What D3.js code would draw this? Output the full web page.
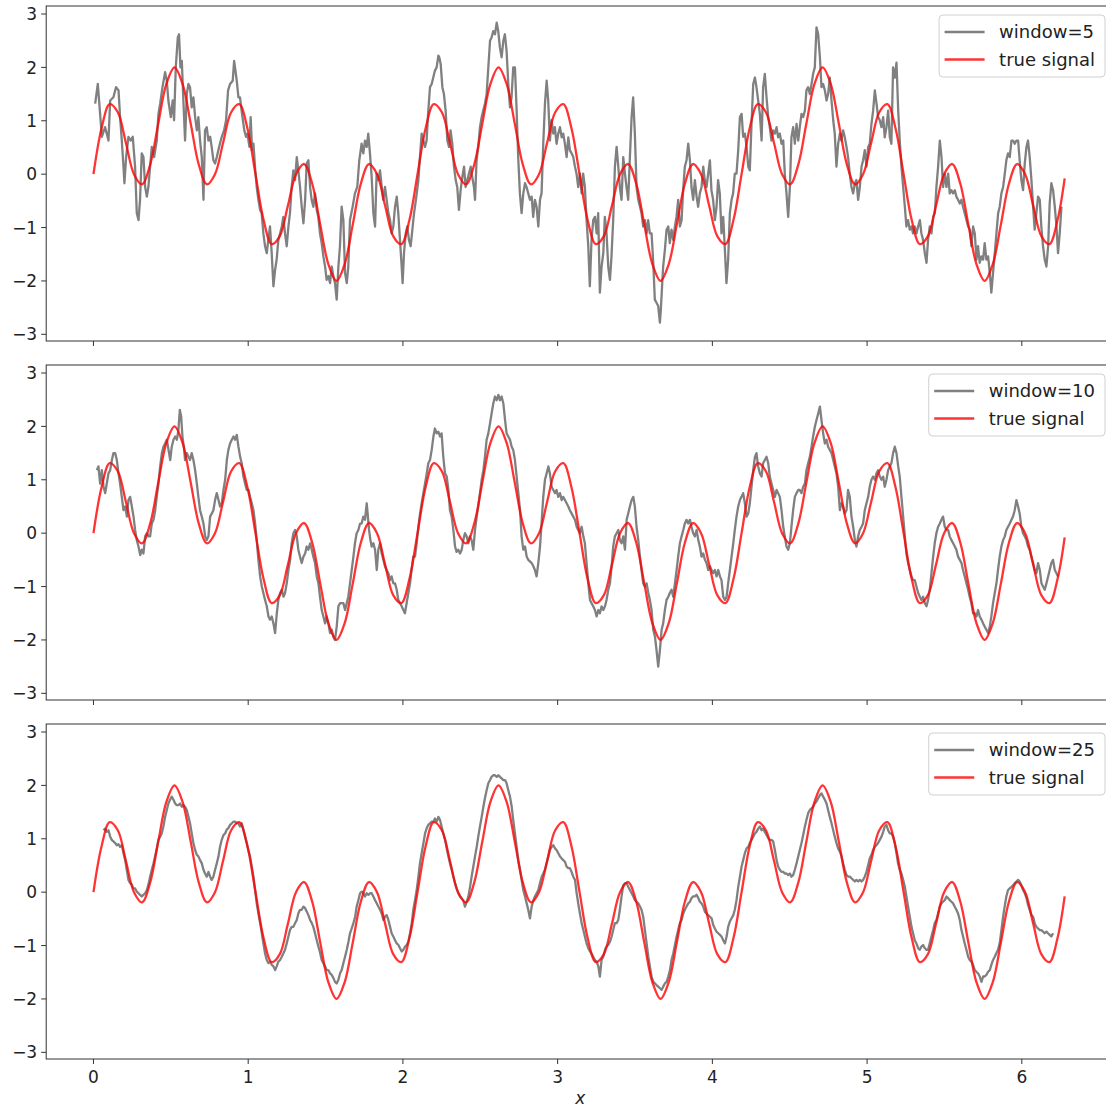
<!DOCTYPE html>
<html>
<head>
<meta charset="utf-8">
<script src="https://cdn.jsdelivr.net/npm/d3@7"></script>
<style>
  html, body { margin: 0; padding: 0; background: #fff; }
  svg { display: block; font-family: "DejaVu Sans", sans-serif; }
</style>
</head>
<body>
<svg id="chart" width="1106" height="1107"></svg>
<script>
// ---- tick labels ----
const xTicks = [0, 1, 2, 3, 4, 5, 6];
const xTickLabels = ["0", "1", "2", "3", "4", "5", "6"];
const yTicks = [-3, -2, -1, 0, 1, 2, 3];
const yTickLabels = ["\u22123", "\u22122", "\u22121", "0", "1", "2", "3"];
const seriesLabels = ["window=5", "window=10", "window=25"];
const trueLabel = "true signal";
const xLabel = "x";

// ---- true signal, sampled every pi/60 from 0 to 2*pi ----
const trueStep = Math.PI / 60;
const trueSignal = [
  0, 0.86, 1.31, 1.16, 0.59, 0, -0.19, 0.18, 0.95, 1.69, 2.00, 1.69, 0.95, 0.18, -0.19, 0, 0.59, 1.16, 1.31, 0.86,
  0, -0.86, -1.31, -1.16, -0.59, 0, 0.19, -0.18, -0.95, -1.69, -2.00, -1.69, -0.95, -0.18, 0.19, 0, -0.59, -1.16, -1.31, -0.86,
  0, 0.86, 1.31, 1.16, 0.59, 0, -0.19, 0.18, 0.95, 1.69, 2.00, 1.69, 0.95, 0.18, -0.19, 0, 0.59, 1.16, 1.31, 0.86,
  0, -0.86, -1.31, -1.16, -0.59, 0, 0.19, -0.18, -0.95, -1.69, -2.00, -1.69, -0.95, -0.18, 0.19, 0, -0.59, -1.16, -1.31, -0.86,
  0, 0.86, 1.31, 1.16, 0.59, 0, -0.19, 0.18, 0.95, 1.69, 2.00, 1.69, 0.95, 0.18, -0.19, 0, 0.59, 1.16, 1.31, 0.86,
  0, -0.86, -1.31, -1.16, -0.59, 0, 0.19, -0.18, -0.95, -1.69, -2.00, -1.69, -0.95, -0.18, 0.19, 0, -0.59, -1.16, -1.31, -0.86,
  -0.08
];

// ---- rolling means, [x, value] ----
const window5 = [
[0.011,1.32],[0.028,1.69],[0.043,1.13],[0.054,0.70],[0.075,0.88],[0.086,0.76],[0.097,0.63],[0.108,1.38],[0.129,1.44],[0.146,1.63],[0.162,1.57],[0.172,1.07],[0.183,0.63],[0.194,0.14],[0.200,-0.17],[0.211,0.32],[0.226,0.70],[0.241,0.63],[0.254,0.70],[0.269,0.14],[0.280,-0.73],[0.291,-0.86],[0.301,-0.48],[0.312,0.39],[0.323,0.32],[0.334,-0.24],[0.345,-0.42],[0.355,-0.24],[0.366,0.14],[0.377,0.51],[0.392,0.32],[0.409,0.63],[0.420,1.13],[0.431,1.32],[0.446,1.63],[0.463,1.91],[0.474,1.75],[0.484,1.38],[0.500,1.07],[0.512,1.38],[0.521,1.01],[0.532,2.00],[0.545,2.56],[0.553,2.62],[0.562,2.00],[0.571,2.12],[0.581,1.38],[0.592,0.63],[0.603,1.50],[0.614,1.69],[0.624,1.63],[0.635,1.25],[0.646,1.44],[0.657,1.07],[0.668,0.82],[0.678,1.07],[0.689,0.63],[0.700,0.32],[0.711,-0.48],[0.721,0.82],[0.732,0.88],[0.743,0.63],[0.754,0.70],[0.764,0.51],[0.775,0.26],[0.786,0.20],[0.797,0.32],[0.812,0.51],[0.829,0.70],[0.844,0.82],[0.857,1.01],[0.870,1.57],[0.883,1.69],[0.900,1.75],[0.909,2.12],[0.915,2.00],[0.926,1.75],[0.937,1.44],[0.947,1.44],[0.960,1.13],[0.975,0.82],[0.986,0.70],[0.995,0.76],[1.008,0.51],[1.016,1.07],[1.025,0.45],[1.034,0.57],[1.044,0.14],[1.055,-0.24],[1.066,-0.48],[1.077,-0.67],[1.087,-0.73],[1.098,-1.11],[1.109,-1.35],[1.120,-1.48],[1.130,-1.23],[1.141,-0.98],[1.152,-1.48],[1.163,-2.10],[1.174,-1.79],[1.184,-1.60],[1.195,-1.23],[1.206,-1.11],[1.217,-0.98],[1.227,-0.80],[1.238,-1.11],[1.249,-1.35],[1.260,-0.98],[1.270,-0.73],[1.281,-0.24],[1.292,0.07],[1.303,-0.11],[1.314,0.32],[1.324,0.07],[1.335,-0.24],[1.346,-0.61],[1.357,-0.92],[1.368,-0.48],[1.378,0.20],[1.389,0.26],[1.400,-0.24],[1.410,-0.48],[1.421,-0.61],[1.432,-0.36],[1.443,-0.67],[1.453,-0.80],[1.464,-1.11],[1.475,-1.29],[1.486,-1.54],[1.497,-1.73],[1.507,-1.98],[1.518,-1.91],[1.529,-2.04],[1.540,-1.73],[1.550,-1.91],[1.561,-2.04],[1.572,-2.35],[1.583,-1.73],[1.593,-1.35],[1.604,-0.61],[1.615,-0.86],[1.626,-1.85],[1.637,-2.04],[1.647,-1.73],[1.658,-0.86],[1.675,-0.61],[1.690,-0.36],[1.705,-0.24],[1.718,0.26],[1.733,0.57],[1.744,0.39],[1.755,0.63],[1.766,0.51],[1.776,0.76],[1.787,0.39],[1.798,-0.05],[1.809,-0.73],[1.820,-0.98],
[1.830,0.01],[1.841,-0.11],[1.852,0.07],[1.863,-0.24],[1.873,-0.48],[1.884,-0.24],[1.895,-0.48],[1.906,-0.73],[1.917,-0.86],[1.927,-1.11],[1.938,-0.98],[1.949,-0.61],[1.960,-0.42],[1.970,-0.73],[1.981,-1.23],[1.992,-1.73],[1.998,-2.04],[2.007,-1.48],[2.018,-1.11],[2.028,-0.98],[2.039,-1.23],[2.050,-1.35],[2.061,-1.04],[2.072,-0.73],[2.084,-0.48],[2.100,-0.11],[2.110,0.32],[2.121,0.76],[2.132,0.63],[2.143,0.51],[2.153,0.63],[2.164,1.19],[2.175,1.63],[2.186,1.69],[2.196,1.81],[2.207,1.94],[2.218,2.00],[2.229,2.22],[2.235,2.19],[2.244,2.06],[2.255,1.63],[2.265,1.50],[2.276,1.19],[2.287,0.63],[2.298,0.51],[2.308,0.82],[2.319,0.57],[2.330,0.14],[2.341,-0.11],[2.351,-0.24],[2.362,-0.67],[2.373,-0.30],[2.384,-0.05],[2.395,0.14],[2.405,-0.24],[2.416,-0.11],[2.427,0.01],[2.438,0.14],[2.448,-0.05],[2.459,-0.24],[2.466,-0.48],[2.476,0.26],[2.487,0.51],[2.498,0.88],[2.509,1.07],[2.519,1.19],[2.530,1.32],[2.541,1.50],[2.552,2.00],[2.563,2.50],[2.573,2.56],[2.584,2.68],[2.595,2.62],[2.606,2.84],[2.616,2.68],[2.627,2.37],[2.638,2.19],[2.649,2.50],[2.659,2.62],[2.670,2.31],[2.681,1.69],[2.692,1.25],[2.702,1.44],[2.713,2.00],[2.724,2.00],[2.735,1.19],[2.745,0.32],[2.756,-0.36],[2.767,-0.73],[2.778,-0.36],[2.789,-0.17],[2.799,-0.24],[2.810,-0.36],[2.821,-0.48],[2.832,-0.42],[2.842,-0.80],[2.853,-0.48],[2.864,-0.61],[2.875,-0.98],[2.886,-0.48],[2.896,-0.36],[2.907,0.57],[2.918,1.32],[2.929,1.75],[2.939,1.38],[2.950,0.63],[2.961,1.01],[2.972,0.76],[2.982,0.88],[2.993,0.57],[3.004,0.76],[3.015,0.88],[3.026,0.69],[3.036,0.76],[3.047,0.57],[3.058,0.32],[3.069,0.69],[3.079,0.45],[3.090,0.39],[3.101,0.32],[3.112,0.14],[3.122,0.01],[3.133,-0.24],[3.144,0.01],[3.155,-0.36],[3.165,0.01],[3.176,-0.24],[3.187,-0.86],[3.198,-1.35],[3.208,-2.10],[3.219,-1.23],[3.230,-0.86],[3.241,-0.80],[3.252,-1.11],[3.262,-0.73],[3.273,-2.22],[3.284,-1.73],[3.295,-1.48],[3.305,-0.80],[3.316,-1.11],[3.327,-1.73],[3.338,-1.98],[3.348,-1.54],[3.359,-0.86],[3.370,0.14],[3.381,0.51],[3.392,0.14],[3.402,-0.24],[3.413,-0.48],[3.424,0.32],[3.435,0.01],[3.445,-0.24],[3.456,-0.48],[3.467,0.32],[3.478,1.07],[3.488,1.44],[3.499,0.76],[3.510,-0.24],[3.521,-0.48],[3.532,-0.61],[3.542,-0.73],[3.553,-0.98],[3.564,-0.86],[3.575,-1.11],[3.585,-0.86],[3.596,-1.11],[3.607,-1.11],[3.618,-1.66],[3.628,-2.35],[3.639,-2.41],[3.650,-2.47],[3.661,-2.78],[3.667,-2.53],[3.676,-2.04],[3.682,-1.73],[3.693,-1.42],[3.704,-1.04],[3.715,-0.98],[3.725,-1.29],[3.736,-1.04],[3.747,-1.23],[3.758,-0.98],[3.768,-0.80],[3.779,-0.48],[3.790,-0.98],[3.801,-0.86],[3.811,-0.30],[3.822,0.14],[3.833,0.26],[3.844,0.57],[3.855,0.26],[3.865,-0.24],[3.876,-0.48],[3.887,-0.11],[3.898,-0.42],[3.908,-0.61],[3.919,-0.36],[3.930,-0.24],[3.941,0.14],[3.951,-0.11],[3.962,-0.24],[3.973,0.01],[3.984,0.26],[3.994,-0.30],[4.005,-0.48],[4.016,-0.86],[4.027,-0.61],[4.037,-0.11],[4.048,-0.36],[4.059,-1.11],[4.070,-0.80],[4.081,-1.42],[4.091,-2.04],[4.102,-1.60],[4.113,-0.73],[4.124,-0.48],[4.134,-0.36],[4.145,0.01],
[4.156,0.01],[4.167,0.45],[4.178,1.07],[4.189,1.13],[4.199,0.70],[4.210,0.76],[4.221,0.51],[4.232,0.14],[4.242,0.07],[4.253,0.94],[4.264,1.69],[4.275,1.81],[4.285,1.63],[4.296,1.38],[4.307,1.13],[4.318,0.63],[4.328,1.63],[4.339,1.88],[4.350,1.44],[4.361,1.07],[4.371,0.88],[4.382,0.63],[4.393,0.82],[4.404,0.76],[4.415,0.88],[4.425,0.69],[4.436,0.76],[4.447,0.57],[4.458,0.63],[4.468,0.01],[4.479,-0.36],[4.490,-0.80],[4.501,-0.24],[4.511,0.69],[4.522,0.88],[4.533,0.57],[4.544,0.94],[4.555,0.63],[4.565,0.88],[4.576,1.13],[4.587,1.07],[4.598,1.19],[4.608,1.57],[4.619,1.63],[4.630,1.50],[4.641,1.69],[4.651,1.88],[4.662,2.00],[4.673,2.75],[4.684,2.62],[4.695,2.19],[4.705,1.63],[4.716,1.69],[4.727,1.57],[4.738,1.38],[4.748,1.50],[4.759,1.81],[4.770,1.38],[4.781,1.01],[4.791,0.76],[4.802,0.14],[4.813,0.57],[4.824,0.76],[4.834,0.63],[4.845,0.82],[4.856,0.69],[4.867,0.51],[4.877,0.32],[4.888,0.01],[4.899,-0.24],[4.910,-0.36],[4.921,-0.17],[4.931,-0.11],[4.942,-0.48],[4.953,-0.24],[4.964,0.14],[4.974,0.26],[4.985,0.45],[4.996,0.14],[5.007,0.51],[5.017,0.57],[5.028,0.94],[5.039,1.19],[5.050,1.57],[5.061,1.32],[5.071,1.07],[5.082,1.01],[5.093,0.88],[5.104,1.07],[5.114,0.69],[5.125,0.88],[5.136,1.19],[5.147,0.69],[5.157,0.57],[5.168,2.00],[5.179,1.81],[5.190,2.09],[5.201,1.19],[5.211,0.63],[5.222,0.14],[5.233,-0.24],[5.244,-0.61],[5.254,-0.98],[5.265,-0.86],[5.276,-1.04],[5.287,-0.98],[5.297,-1.11],[5.308,-0.98],[5.319,-1.11],[5.330,-0.98],[5.341,-0.86],[5.351,-1.11],[5.362,-1.23],[5.373,-1.48],[5.384,-1.66],[5.394,-1.23],[5.405,-0.98],[5.416,-1.11],[5.427,-0.80],[5.438,-0.73],[5.448,-0.24],[5.459,0.14],[5.470,0.63],[5.481,0.32],[5.491,-0.24],[5.502,0.01],[5.513,-0.24],[5.524,0.01],[5.534,-0.36],[5.545,-0.30],[5.556,-0.36],[5.567,-0.30],[5.577,-0.42],[5.588,-0.48],[5.599,-0.55],[5.610,-0.48],[5.620,-0.61],[5.631,-0.73],[5.642,-0.86],[5.653,-0.98],[5.664,-1.04],[5.674,-1.35],[5.685,-0.98],[5.696,-1.11],[5.707,-1.60],[5.717,-1.35],[5.728,-1.66],[5.739,-1.54],[5.750,-1.60],[5.760,-1.29],[5.771,-1.60],[5.782,-1.54],[5.793,-1.85],[5.803,-2.22],[5.814,-1.85],[5.825,-1.48],[5.836,-1.11],[5.847,-0.73],[5.857,-0.61],[5.868,-0.36],[5.879,-0.24],[5.890,0.01],[5.900,0.26],[5.911,0.39],[5.922,0.32],[5.933,0.63],[5.943,0.63],[5.954,0.57],[5.965,0.63],[5.976,0.63],[5.986,0.26],[5.997,-0.11],[6.008,-0.30],[6.019,0.20],[6.030,0.51],[6.040,0.63],[6.051,0.32],[6.062,-0.11],[6.073,-0.61],[6.083,-1.04],[6.094,-0.73],[6.105,-0.42],[6.116,-0.48],[6.126,-0.98],[6.137,-1.35],[6.148,-1.60],[6.159,-1.73],[6.170,-1.35],[6.180,-0.55],[6.191,-0.17],[6.202,-0.30],[6.213,-0.61],[6.224,-0.98],[6.234,-1.48],[6.245,-1.11],[6.256,-0.61]
];

const window10 = [
[0.022,1.18],[0.032,1.25],[0.043,0.93],[0.054,1.18],[0.065,0.87],[0.076,0.75],[0.086,0.93],[0.097,1.12],[0.108,1.18],[0.119,1.37],[0.129,1.50],[0.140,1.50],[0.151,1.37],[0.162,1.12],[0.172,0.93],[0.183,0.68],[0.194,0.43],[0.205,0.50],[0.216,0.31],[0.226,0.62],[0.237,0.68],[0.248,0.50],[0.259,0.31],[0.269,0.06],[0.280,-0.13],[0.291,-0.25],[0.302,-0.41],[0.312,-0.31],[0.323,-0.38],[0.334,-0.06],[0.345,0.00],[0.356,-0.06],[0.366,-0.06],[0.377,0.18],[0.388,0.25],[0.399,0.43],[0.409,0.68],[0.420,0.93],[0.431,1.25],[0.442,1.50],[0.452,1.62],[0.463,1.68],[0.474,1.75],[0.485,1.56],[0.496,1.37],[0.506,1.62],[0.517,1.75],[0.528,1.81],[0.539,1.75],[0.549,1.93],[0.558,2.31],[0.567,2.18],[0.575,1.81],[0.584,1.62],[0.592,1.37],[0.603,1.50],[0.614,1.43],[0.624,1.37],[0.635,1.50],[0.646,1.37],[0.657,1.18],[0.668,0.93],[0.678,0.68],[0.689,0.43],[0.700,0.31],[0.711,0.18],[0.722,-0.06],[0.732,-0.13],[0.743,-0.06],[0.754,0.31],[0.765,0.37],[0.775,0.43],[0.786,0.62],[0.797,0.75],[0.808,0.62],[0.818,0.50],[0.829,0.56],[0.840,0.81],[0.851,1.00],[0.862,1.37],[0.872,1.56],[0.883,1.68],[0.894,1.75],[0.905,1.81],[0.915,1.75],[0.926,1.84],[0.937,1.62],[0.948,1.43],[0.958,1.31],[0.969,1.06],[0.980,0.93],[0.991,0.81],[1.002,0.81],[1.012,0.68],[1.023,0.56],[1.034,0.43],[1.045,0.18],[1.055,-0.13],[1.066,-0.50],[1.077,-0.81],[1.088,-1.00],[1.098,-1.12],[1.109,-1.25],[1.120,-1.37],[1.131,-1.56],[1.141,-1.62],[1.152,-1.56],[1.163,-1.69],[1.174,-1.87],[1.185,-1.50],[1.195,-1.25],[1.206,-1.12],[1.217,-1.06],[1.228,-1.19],[1.238,-1.12],[1.249,-0.94],[1.260,-0.69],[1.271,-0.50],[1.281,-0.19],[1.292,0.00],[1.303,0.06],[1.314,-0.06],[1.324,-0.31],[1.335,-0.44],[1.346,-0.56],[1.357,-0.44],[1.368,-0.38],[1.378,-0.25],[1.389,-0.31],[1.400,-0.19],[1.411,-0.31],[1.421,-0.44],[1.432,-0.56],[1.443,-0.81],[1.454,-0.94],[1.464,-1.19],[1.475,-1.44],[1.486,-1.56],[1.497,-1.69],[1.507,-1.56],[1.518,-1.69],[1.529,-1.87],[1.540,-1.81],[1.550,-1.94],[1.561,-2.00],[1.572,-1.75],[1.583,-1.37],[1.594,-1.31],[1.604,-1.31],[1.615,-1.31],[1.626,-1.44],[1.637,-1.31],[1.647,-1.19],[1.658,-0.94],[1.669,-0.69],[1.680,-0.44],[1.690,-0.19],[1.701,0.00],[1.712,0.06],[1.723,0.18],[1.733,0.18],[1.744,0.31],[1.755,0.25],[1.766,0.56],[1.772,0.37],[1.781,0.06],[1.790,-0.13],[1.798,-0.25],[1.809,-0.19],[1.820,-0.31],[1.831,-0.69],[1.841,-0.31],[1.852,-0.19],[1.863,-0.38],[1.874,-0.50],[1.884,-0.62],[1.895,-0.69],[1.906,-0.75],[1.917,-0.88],[1.927,-0.81],[1.938,-0.94],[1.949,-0.94],[1.960,-1.06],[1.970,-1.25],[1.981,-1.31],[1.992,-1.37],[2.003,-1.44],[2.013,-1.50],[2.024,-1.31],[2.035,-1.12],[2.046,-0.94],[2.056,-0.69],[2.067,-0.44],
[2.078,-0.44],[2.089,-0.19],[2.100,0.12],[2.111,0.37],[2.121,0.56],[2.132,0.75],[2.143,0.93],[2.154,1.12],[2.164,1.31],[2.175,1.37],[2.186,1.56],[2.197,1.81],[2.207,1.96],[2.218,1.87],[2.229,1.90],[2.240,1.81],[2.250,1.87],[2.261,1.43],[2.272,1.12],[2.283,1.06],[2.294,0.81],[2.304,0.43],[2.315,0.31],[2.326,0.06],[2.337,-0.25],[2.347,-0.35],[2.358,-0.31],[2.369,-0.38],[2.380,-0.31],[2.390,-0.13],[2.401,0.00],[2.412,-0.06],[2.423,-0.19],[2.433,-0.06],[2.444,-0.13],[2.455,-0.31],[2.466,0.06],[2.477,0.31],[2.487,0.50],[2.498,0.75],[2.509,1.00],[2.520,1.18],[2.530,1.43],[2.541,1.75],[2.552,1.87],[2.563,2.06],[2.573,2.24],[2.584,2.43],[2.595,2.56],[2.606,2.49],[2.617,2.59],[2.627,2.49],[2.638,2.56],[2.649,2.43],[2.660,2.12],[2.670,1.87],[2.681,1.81],[2.692,1.75],[2.703,1.62],[2.713,1.56],[2.724,1.37],[2.735,1.06],[2.746,0.75],[2.757,0.43],[2.767,-0.06],[2.778,-0.31],[2.789,-0.25],[2.800,-0.44],[2.810,-0.50],[2.821,-0.53],[2.832,-0.56],[2.843,-0.62],[2.853,-0.69],[2.864,-0.81],[2.875,-0.56],[2.886,-0.25],[2.896,0.18],[2.907,0.68],[2.918,1.00],[2.929,1.12],[2.940,1.25],[2.950,1.12],[2.961,0.87],[2.972,0.81],[2.983,0.75],[2.993,0.81],[3.004,0.68],[3.015,0.75],[3.026,0.62],[3.036,0.68],[3.047,0.62],[3.058,0.56],[3.069,0.50],[3.079,0.43],[3.090,0.37],[3.101,0.31],[3.112,0.25],[3.123,0.12],[3.133,0.06],[3.144,0.00],[3.155,0.12],[3.166,-0.06],[3.176,-0.19],[3.187,-0.56],[3.198,-0.94],[3.209,-1.25],[3.219,-1.31],[3.230,-1.37],[3.241,-1.44],[3.252,-1.56],[3.263,-1.44],[3.273,-1.50],[3.284,-1.37],[3.295,-1.44],[3.306,-1.37],[3.316,-1.25],[3.327,-1.06],[3.338,-0.94],[3.349,-0.62],[3.359,-0.25],[3.370,-0.06],[3.381,0.00],[3.392,0.06],[3.402,-0.13],[3.413,-0.19],[3.424,-0.06],[3.435,-0.31],[3.446,0.25],[3.456,0.37],[3.467,0.50],[3.478,0.62],[3.489,0.68],[3.499,0.50],[3.510,0.12],[3.521,-0.13],[3.532,-0.44],[3.542,-0.69],[3.553,-0.94],[3.564,-1.00],[3.575,-0.94],[3.586,-1.12],[3.596,-1.25],[3.607,-1.44],[3.618,-1.81],[3.629,-1.94],[3.639,-2.19],[3.650,-2.50],[3.661,-2.19],[3.672,-1.81],[3.682,-1.69],[3.693,-1.44],[3.704,-1.25],[3.715,-1.19],[3.725,-1.12],[3.736,-1.06],[3.747,-1.19],[3.758,-0.94],[3.769,-0.69],[3.779,-0.44],[3.790,-0.19],[3.801,-0.06],[3.812,0.06],[3.822,0.18],[3.833,0.25],[3.844,0.18],[3.855,0.25],[3.865,0.12],[3.876,0.00],[3.887,-0.06],[3.898,0.06],[3.909,-0.13],[3.919,-0.25],[3.930,-0.44],[3.941,-0.38],[3.952,-0.50],[3.962,-0.56],[3.973,-0.69],[3.984,-0.62],[3.995,-0.69],[4.005,-0.75],[4.016,-0.69],[4.027,-0.81],[4.038,-0.69],[4.049,-0.81],[4.059,-0.88],[4.070,-1.19],[4.081,-1.25],[4.092,-1.19],[4.102,-0.94],[4.113,-0.69],[4.124,-0.44],[4.135,-0.19],
[4.145,0.06],[4.156,0.31],[4.167,0.50],[4.178,0.62],[4.188,0.68],[4.199,0.75],[4.210,0.56],[4.221,0.31],[4.232,0.37],[4.242,0.56],[4.253,0.87],[4.264,1.18],[4.275,1.43],[4.285,1.50],[4.296,1.25],[4.307,1.12],[4.318,1.06],[4.328,1.31],[4.339,1.37],[4.350,1.43],[4.361,1.31],[4.371,1.06],[4.382,0.93],[4.393,0.81],[4.404,0.68],[4.415,0.81],[4.425,0.75],[4.436,0.68],[4.447,0.43],[4.458,0.12],[4.468,-0.06],[4.479,-0.25],[4.490,-0.31],[4.501,-0.19],[4.511,0.12],[4.522,0.43],[4.533,0.68],[4.544,0.75],[4.555,0.81],[4.565,0.81],[4.576,0.75],[4.587,0.87],[4.598,0.93],[4.608,1.18],[4.619,1.31],[4.630,1.43],[4.641,1.62],[4.651,1.81],[4.662,1.99],[4.673,2.12],[4.684,2.24],[4.695,2.37],[4.705,2.12],[4.716,1.87],[4.727,1.68],[4.738,1.75],[4.748,1.62],[4.759,1.56],[4.770,1.50],[4.781,1.37],[4.791,1.25],[4.802,1.12],[4.813,0.87],[4.824,0.43],[4.834,0.56],[4.845,0.50],[4.856,0.37],[4.867,0.43],[4.877,0.81],[4.888,0.68],[4.899,0.31],[4.910,0.12],[4.921,-0.13],[4.931,-0.25],[4.942,-0.06],[4.953,0.06],[4.964,0.12],[4.974,0.18],[4.985,0.43],[4.996,0.56],[5.007,0.68],[5.017,0.87],[5.028,1.00],[5.039,1.06],[5.050,1.00],[5.061,1.12],[5.071,1.18],[5.082,1.06],[5.093,1.00],[5.104,1.06],[5.114,0.87],[5.125,1.00],[5.136,1.18],[5.147,1.25],[5.157,1.31],[5.168,1.50],[5.179,1.62],[5.190,1.50],[5.201,1.25],[5.211,1.06],[5.222,0.68],[5.233,0.31],[5.244,-0.06],[5.254,-0.38],[5.265,-0.56],[5.276,-0.69],[5.287,-0.81],[5.297,-0.88],[5.308,-0.88],[5.319,-1.00],[5.330,-1.12],[5.341,-1.19],[5.351,-1.25],[5.362,-1.19],[5.373,-1.31],[5.384,-1.37],[5.394,-1.25],[5.405,-1.06],[5.416,-0.75],[5.427,-0.44],[5.437,-0.19],[5.448,0.00],[5.459,0.12],[5.470,0.18],[5.480,0.25],[5.491,0.31],[5.502,0.12],[5.513,0.06],[5.524,0.06],[5.534,-0.06],[5.545,-0.13],[5.556,-0.19],[5.567,-0.25],[5.577,-0.31],[5.588,-0.44],[5.599,-0.50],[5.610,-0.56],[5.620,-0.69],[5.631,-0.81],[5.642,-0.94],[5.653,-1.06],[5.663,-1.19],[5.674,-1.31],[5.685,-1.50],[5.696,-1.50],[5.707,-1.56],[5.717,-1.44],[5.728,-1.56],[5.739,-1.62],[5.750,-1.69],[5.760,-1.75],[5.771,-1.81],[5.782,-1.87],[5.793,-1.75],[5.803,-1.56],[5.814,-1.31],[5.825,-1.12],[5.836,-0.94],[5.846,-0.69],[5.857,-0.44],[5.868,-0.25],[5.879,-0.13],[5.890,-0.06],[5.900,0.06],[5.911,0.12],[5.922,0.18],[5.933,0.25],[5.943,0.31],[5.954,0.43],[5.965,0.62],[5.976,0.50],[5.986,0.37],[5.997,0.12],[6.008,0.00],[6.019,-0.06],[6.030,-0.13],[6.040,-0.25],[6.051,-0.31],[6.062,-0.44],[6.073,-0.56],[6.083,-0.69],[6.094,-0.75],[6.105,-0.56],[6.116,-0.69],[6.127,-0.94],[6.137,-1.00],[6.148,-1.06],[6.159,-0.94],[6.170,-0.81],[6.180,-0.69],[6.191,-0.56],[6.202,-0.50],[6.213,-0.69],[6.224,-0.75],[6.234,-0.81]
];

const window25 = [
[0.065,1.16],[0.075,1.19],[0.086,1.13],[0.097,1.16],[0.108,1.04],[0.118,0.98],[0.129,0.95],[0.140,0.92],[0.151,0.88],[0.161,0.90],[0.172,0.85],[0.183,0.88],[0.194,0.73],[0.205,0.60],[0.215,0.42],[0.226,0.23],[0.237,0.17],[0.248,0.14],[0.258,0.07],[0.269,0.07],[0.280,0.01],[0.291,-0.02],[0.301,-0.05],[0.312,-0.08],[0.323,-0.05],[0.334,-0.02],[0.345,0.04],[0.355,0.14],[0.366,0.29],[0.377,0.42],[0.388,0.54],[0.398,0.67],[0.409,0.82],[0.420,0.98],[0.431,1.04],[0.441,1.10],[0.452,1.23],[0.463,1.41],[0.474,1.54],[0.484,1.66],[0.495,1.73],[0.506,1.79],[0.517,1.73],[0.528,1.66],[0.538,1.63],[0.549,1.63],[0.560,1.66],[0.571,1.60],[0.581,1.63],[0.592,1.60],[0.603,1.54],[0.614,1.41],[0.624,1.29],[0.635,1.10],[0.646,0.92],[0.657,0.79],[0.668,0.70],[0.678,0.67],[0.689,0.60],[0.700,0.54],[0.711,0.42],[0.721,0.35],[0.732,0.29],[0.743,0.38],[0.754,0.29],[0.764,0.23],[0.775,0.29],[0.786,0.42],[0.797,0.54],[0.808,0.67],[0.818,0.85],[0.829,0.98],[0.840,1.07],[0.851,1.10],[0.861,1.17],[0.872,1.20],[0.883,1.26],[0.894,1.29],[0.904,1.32],[0.915,1.32],[0.926,1.29],[0.937,1.29],[0.947,1.23],[0.958,1.29],[0.969,1.17],[0.980,1.04],[0.991,0.92],[1.001,0.79],[1.012,0.67],[1.023,0.48],[1.034,0.29],[1.045,0.04],[1.055,-0.21],[1.066,-0.40],[1.077,-0.58],[1.088,-0.77],[1.098,-0.96],[1.109,-1.15],[1.120,-1.27],[1.131,-1.33],[1.141,-1.30],[1.152,-1.36],[1.163,-1.39],[1.174,-1.46],[1.184,-1.39],[1.195,-1.30],[1.206,-1.27],[1.217,-1.21],[1.227,-1.15],[1.238,-1.08],[1.249,-0.96],[1.260,-0.83],[1.270,-0.71],[1.281,-0.65],[1.292,-0.65],[1.303,-0.58],[1.314,-0.52],[1.324,-0.40],[1.335,-0.33],
[1.346,-0.33],[1.357,-0.27],[1.368,-0.30],[1.378,-0.36],[1.389,-0.43],[1.400,-0.52],[1.411,-0.58],[1.421,-0.65],[1.432,-0.77],[1.443,-0.90],[1.454,-1.02],[1.465,-1.14],[1.475,-1.27],[1.486,-1.33],[1.497,-1.39],[1.508,-1.46],[1.518,-1.46],[1.529,-1.52],[1.540,-1.55],[1.551,-1.61],[1.561,-1.68],[1.572,-1.71],[1.583,-1.64],[1.594,-1.52],[1.604,-1.46],[1.615,-1.33],[1.626,-1.21],[1.637,-1.08],[1.648,-0.93],[1.658,-0.77],[1.669,-0.68],[1.680,-0.58],[1.691,-0.46],[1.701,-0.27],[1.712,-0.15],[1.723,-0.02],[1.734,0.01],[1.744,-0.02],[1.755,-0.08],[1.766,-0.02],[1.777,-0.05],[1.788,-0.02],[1.798,-0.02],[1.809,-0.08],[1.820,-0.15],[1.831,-0.21],[1.841,-0.27],[1.852,-0.33],[1.863,-0.40],[1.874,-0.52],[1.884,-0.46],[1.895,-0.43],[1.906,-0.52],[1.917,-0.65],[1.927,-0.77],[1.938,-0.83],[1.949,-0.90],[1.960,-0.96],[1.971,-0.99],[1.981,-1.05],[1.992,-1.11],[2.003,-1.08],[2.014,-1.02],[2.024,-0.99],[2.035,-0.93],[2.046,-0.77],[2.057,-0.58],[2.067,-0.33],[2.078,-0.15],[2.089,0.04],[2.100,0.29],[2.110,0.54],[2.121,0.73],[2.132,0.91],[2.143,1.10],[2.154,1.20],[2.164,1.26],[2.175,1.29],[2.186,1.32],[2.197,1.32],[2.207,1.38],[2.218,1.32],[2.229,1.41],[2.240,1.35],[2.250,1.23],[2.261,1.10],[2.272,0.98],[2.283,0.82],[2.294,0.67],[2.304,0.54],[2.315,0.42],[2.326,0.29],[2.337,0.17],[2.347,0.07],[2.358,-0.02],[2.369,-0.08],[2.380,-0.12],[2.390,-0.15],[2.401,-0.27],[2.412,-0.18],[2.423,-0.08],[2.434,0.10],[2.444,0.29],[2.455,0.48],[2.466,0.67],[2.477,0.85],[2.487,1.04],[2.498,1.23],[2.509,1.41],[2.520,1.60],[2.530,1.76],[2.541,1.91],[2.552,2.04],[2.563,2.10],[2.573,2.16],[2.584,2.19],[2.595,2.19],[2.606,2.16],[2.617,2.19],[2.627,2.16],[2.638,2.13],[2.649,2.10],[2.660,2.10],[2.670,2.04],[2.681,1.91],[2.692,1.79],[2.703,1.60],[2.713,1.35],[2.724,1.10],[2.735,0.85],[2.746,0.60],[2.757,0.42],[2.767,0.23],[2.778,0.04],[2.789,-0.08],[2.800,-0.21],[2.810,-0.33],[2.821,-0.49],[2.832,-0.27],[2.843,-0.15],[2.853,-0.08],[2.864,-0.02],[2.875,0.04],[2.886,0.17],[2.897,0.29],[2.907,0.35],[2.918,0.42],[2.929,0.54],[2.940,0.67],[2.950,0.79],[2.961,0.85],[2.972,0.88],[2.983,0.82],[2.993,0.79],[3.004,0.73],[3.015,0.67],[3.026,0.63],[3.036,0.60],[3.047,0.57],[3.058,0.48],[3.069,0.45],[3.079,0.45],
[3.090,0.38],[3.101,0.29],[3.112,0.23],[3.123,-0.02],[3.133,-0.21],[3.144,-0.40],[3.155,-0.58],[3.166,-0.71],[3.176,-0.83],[3.187,-0.96],[3.198,-1.05],[3.209,-1.11],[3.219,-1.15],[3.230,-1.21],[3.241,-1.27],[3.252,-1.30],[3.263,-1.39],[3.273,-1.58],[3.284,-1.27],[3.295,-1.21],[3.306,-1.08],[3.316,-1.02],[3.327,-0.99],[3.338,-0.93],[3.349,-0.83],[3.359,-0.71],[3.370,-0.58],[3.381,-0.58],[3.392,-0.52],[3.402,-0.33],[3.413,-0.08],[3.424,0.13],[3.435,0.17],[3.446,0.17],[3.456,0.10],[3.467,0.04],[3.478,-0.02],[3.489,-0.08],[3.499,-0.15],[3.510,-0.18],[3.521,-0.21],[3.532,-0.27],[3.542,-0.33],[3.553,-0.46],[3.564,-0.71],[3.575,-0.96],[3.586,-1.21],[3.596,-1.39],[3.607,-1.58],[3.618,-1.68],[3.629,-1.71],[3.639,-1.74],[3.650,-1.77],[3.661,-1.80],[3.672,-1.83],[3.682,-1.77],[3.693,-1.71],[3.704,-1.68],[3.715,-1.58],[3.726,-1.46],[3.736,-1.27],[3.747,-1.15],[3.758,-0.99],[3.769,-0.83],[3.779,-0.71],[3.790,-0.58],[3.801,-0.52],[3.812,-0.40],[3.822,-0.33],[3.833,-0.27],[3.844,-0.21],[3.855,-0.18],[3.865,-0.11],[3.876,-0.08],[3.887,-0.08],[3.898,-0.05],[3.909,-0.11],[3.919,-0.18],[3.930,-0.21],[3.941,-0.27],[3.952,-0.37],[3.962,-0.40],[3.973,-0.43],[3.984,-0.46],[3.995,-0.49],[4.005,-0.61],[4.016,-0.68],[4.027,-0.74],[4.038,-0.77],[4.049,-0.80],[4.059,-0.83],[4.070,-0.90],[4.081,-0.96],[4.092,-0.83],[4.102,-0.65],[4.113,-0.55],[4.124,-0.49],[4.135,-0.43],[4.145,-0.33],[4.156,-0.15],[4.167,0.10],[4.178,0.29],[4.189,0.48],[4.199,0.60],[4.210,0.73],[4.221,0.82],[4.232,0.85],[4.242,0.92],[4.253,0.98],[4.264,1.04],[4.275,1.10],[4.285,1.13],[4.296,1.19],[4.307,1.23],[4.318,1.16],[4.328,1.19],[4.339,1.13],[4.350,1.07],[4.361,1.01],[4.371,0.98],[4.382,0.98],[4.393,0.95],[4.404,0.79],[4.415,0.60],[4.425,0.48],[4.436,0.42],[4.447,0.38],[4.458,0.38],[4.468,0.35],[4.479,0.35],[4.490,0.32],[4.501,0.35],[4.511,0.29],[4.522,0.32],[4.533,0.42],[4.544,0.54],[4.555,0.67],[4.565,0.79],[4.576,0.92],[4.587,1.07],[4.598,1.23],[4.608,1.35],[4.619,1.48],[4.630,1.54],[4.641,1.57],[4.651,1.60],[4.662,1.66],[4.673,1.70],[4.684,1.76],[4.695,1.82],[4.705,1.85],[4.716,1.79],[4.727,1.73],[4.738,1.66],[4.748,1.54],[4.759,1.41],[4.770,1.29],[4.781,1.16],[4.791,1.04],[4.802,0.92],[4.813,0.82],[4.824,0.76],[4.835,0.67],[4.845,0.54],[4.856,0.42],[4.867,0.32],[4.878,0.29],[4.888,0.29],
[4.899,0.26],[4.910,0.23],[4.921,0.20],[4.931,0.23],[4.942,0.20],[4.953,0.23],[4.964,0.20],[4.974,0.23],[4.985,0.29],[4.996,0.38],[5.007,0.51],[5.017,0.63],[5.028,0.70],[5.039,0.79],[5.050,0.85],[5.060,0.88],[5.071,0.92],[5.082,0.98],[5.093,1.04],[5.104,1.13],[5.114,1.23],[5.125,1.26],[5.136,1.16],[5.147,1.10],[5.157,1.10],[5.168,1.04],[5.179,0.92],[5.190,0.73],[5.200,0.54],[5.211,0.42],[5.222,0.35],[5.233,0.23],[5.244,0.10],[5.254,-0.08],[5.265,-0.27],[5.276,-0.46],[5.287,-0.65],[5.297,-0.77],[5.308,-0.90],[5.319,-0.96],[5.330,-1.05],[5.340,-1.08],[5.351,-1.02],[5.362,-0.99],[5.373,-1.05],[5.384,-1.08],[5.394,-1.08],[5.405,-0.96],[5.416,-0.83],[5.427,-0.71],[5.437,-0.58],[5.448,-0.52],[5.459,-0.40],[5.470,-0.27],[5.480,-0.21],[5.491,-0.18],[5.502,-0.15],[5.513,-0.08],[5.523,-0.11],[5.534,-0.15],[5.545,-0.18],[5.556,-0.21],[5.566,-0.27],[5.577,-0.33],[5.588,-0.40],[5.599,-0.52],[5.610,-0.71],[5.620,-0.83],[5.631,-0.96],[5.642,-1.08],[5.653,-1.21],[5.663,-1.27],[5.674,-1.30],[5.685,-1.36],[5.696,-1.46],[5.706,-1.49],[5.717,-1.52],[5.728,-1.58],[5.739,-1.68],[5.750,-1.58],[5.760,-1.58],[5.771,-1.55],[5.782,-1.49],[5.793,-1.46],[5.803,-1.36],[5.814,-1.27],[5.825,-1.21],[5.836,-1.14],[5.846,-1.08],[5.857,-0.96],[5.868,-0.71],[5.879,-0.46],[5.889,-0.27],[5.900,-0.08],[5.911,0.04],[5.922,0.07],[5.933,0.10],[5.943,0.13],[5.954,0.17],[5.965,0.20],[5.976,0.23],[5.986,0.20],[5.997,0.13],[6.008,0.04],[6.019,-0.02],[6.030,-0.11],[6.040,-0.24],[6.051,-0.33],[6.062,-0.43],[6.073,-0.46],[6.083,-0.58],[6.094,-0.65],[6.105,-0.68],[6.116,-0.71],[6.126,-0.71],[6.137,-0.74],[6.148,-0.77],[6.159,-0.74],[6.169,-0.77],[6.180,-0.80],[6.191,-0.83],[6.202,-0.77]
];

const seriesData = [window5, window10, window25];

// ---- layout ----
const svg = d3.select("#chart");
const plotLeft = 46.2, plotRight = 1114.5;
const panelTops = [6, 365, 724];
const panelH = 335;
const xDomain = [-0.3055, 6.599];
const yDomain = [-3.125, 3.15];
const tickFont = 17;
const legendFont = 18;
const axisColor = "#333";
const grayColor = "#808080";
const lineW = 2.3;

const x = d3.scaleLinear().domain(xDomain).range([plotLeft, plotRight]);
const trueX = d3.range(trueSignal.length).map(i => i * trueStep);
const truePts = trueSignal.map((v, i) => [trueX[i], v]);
// last sample sits just short of 2*pi
truePts[truePts.length - 1][0] = 6.277;

panelTops.forEach((top, p) => {
  const bottom = top + panelH;
  const y = d3.scaleLinear().domain(yDomain).range([bottom, top]);
  const g = svg.append("g");

  const clipId = "clip" + p;
  svg.append("clipPath").attr("id", clipId)
    .append("rect").attr("x", plotLeft).attr("y", top)
    .attr("width", plotRight - plotLeft).attr("height", panelH);

  const lines = g.append("g").attr("clip-path", `url(#${clipId})`);
  const lineGen = d3.line().x(d => x(d[0])).y(d => y(d[1]));
  const smoothGen = d3.line().x(d => x(d[0])).y(d => y(d[1])).curve(d3.curveCatmullRom.alpha(0.5));

  lines.append("path").datum(seriesData[p])
    .attr("d", lineGen)
    .attr("fill", "none").attr("stroke", grayColor)
    .attr("stroke-width", lineW).attr("stroke-linejoin", "round");

  lines.append("path").datum(truePts)
    .attr("d", smoothGen)
    .attr("fill", "none").attr("stroke", "red").attr("stroke-opacity", 0.8)
    .attr("stroke-width", lineW).attr("stroke-linejoin", "round");

  // frame
  g.append("rect").attr("x", plotLeft).attr("y", top)
    .attr("width", plotRight - plotLeft).attr("height", panelH)
    .attr("fill", "none").attr("stroke", axisColor).attr("stroke-width", 1);

  // y ticks
  yTicks.forEach((t, i) => {
    const yy = y(t);
    g.append("line").attr("x1", plotLeft - 5).attr("x2", plotLeft)
      .attr("y1", yy).attr("y2", yy).attr("stroke", axisColor).attr("stroke-width", 1);
    g.append("text").attr("x", plotLeft - 9).attr("y", yy).attr("dy", "0.36em")
      .attr("text-anchor", "end").attr("font-size", tickFont).attr("fill", "#222")
      .text(yTickLabels[i]);
  });

  // x ticks
  xTicks.forEach((t, i) => {
    const xx = x(t);
    g.append("line").attr("x1", xx).attr("x2", xx)
      .attr("y1", bottom).attr("y2", bottom + 5).attr("stroke", axisColor).attr("stroke-width", 1);
    if (p === panelTops.length - 1) {
      g.append("text").attr("x", xx).attr("y", bottom + 24)
        .attr("text-anchor", "middle").attr("font-size", tickFont).attr("fill", "#222")
        .text(xTickLabels[i]);
    }
  });

  // legend
  const lg = g.append("g");
  const labels = [seriesLabels[p], trueLabel];
  const colors = [grayColor, "red"];
  const opac = [1, 0.8];
  const texts = labels.map(lab =>
    lg.append("text").attr("font-size", legendFont).attr("fill", "#222").text(lab));
  const textW = d3.max(texts, t => t.node().getComputedTextLength());
  const boxRight = plotRight - 9.5;
  const boxW = 60 + textW + 10;
  const boxL = boxRight - boxW;
  const boxT = top + 9;
  lg.insert("rect", ":first-child")
    .attr("x", boxL).attr("y", boxT).attr("width", boxW).attr("height", 62)
    .attr("rx", 4).attr("fill", "#fff").attr("fill-opacity", 0.8)
    .attr("stroke", "#d0d0d0").attr("stroke-width", 1);
  [17, 44.5].forEach((dy, i) => {
    lg.append("line").attr("x1", boxL + 5.5).attr("x2", boxL + 45.5)
      .attr("y1", boxT + dy).attr("y2", boxT + dy)
      .attr("stroke", colors[i]).attr("stroke-opacity", opac[i]).attr("stroke-width", lineW);
    texts[i].attr("x", boxL + 60).attr("y", boxT + dy).attr("dy", "0.36em");
  });
});

// x axis label, centred under the axes
svg.append("text").attr("x", (plotLeft + plotRight) / 2).attr("y", 1104)
  .attr("text-anchor", "middle").attr("font-size", 17).attr("font-style", "italic")
  .attr("fill", "#222").text(xLabel);
</script>
</body>
</html>
